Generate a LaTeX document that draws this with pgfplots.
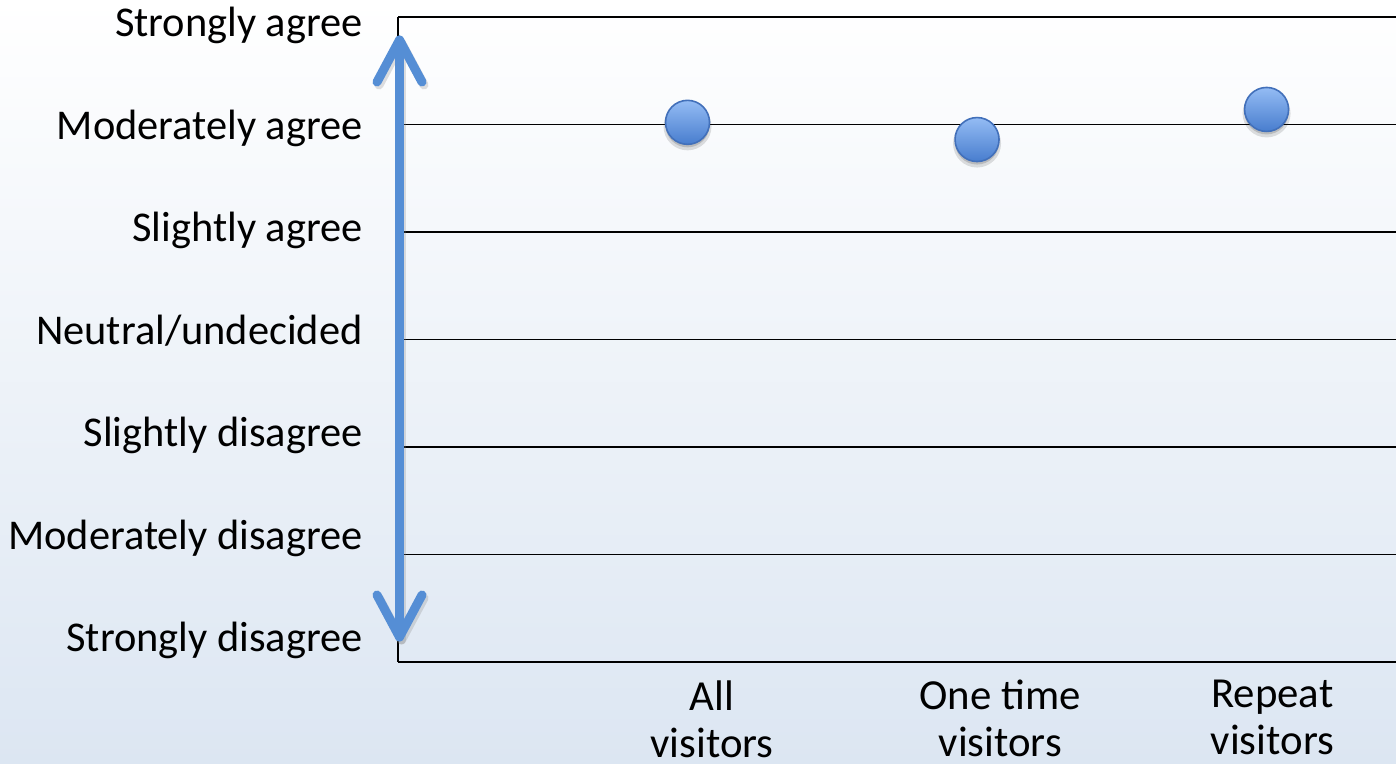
\documentclass[border=0pt]{standalone}
\usepackage{pgfplots}
\pgfplotsset{compat=1.18}
\usepackage{fontspec}
\setmainfont{Carlito}

\definecolor{arrowblue}{RGB}{85,142,213}
\definecolor{dottop}{RGB}{148,188,244}
\definecolor{dotbot}{RGB}{72,125,206}
\definecolor{dotedge}{RGB}{66,112,186}
\definecolor{bgbottom}{RGB}{220,230,242}

% shaded dot with a soft shadow
\pgfdeclareverticalshading{dotshade}{100bp}{color(0bp)=(dotbot); color(25bp)=(dotbot); color(75bp)=(dottop); color(100bp)=(dottop)}
\pgfdeclareplotmark{gdot}{%
  \begin{pgfscope}
    \pgfsetfillopacity{0.12}\pgfsetfillcolor{black}
    \pgfpathcircle{\pgfpoint{0pt}{-2pt}}{\pgfplotmarksize+1pt}
    \pgfusepath{fill}
    \pgfsetfillopacity{0.15}
    \pgfpathcircle{\pgfpoint{0pt}{-1.5pt}}{\pgfplotmarksize}
    \pgfusepath{fill}
  \end{pgfscope}
  \pgfpathcircle{\pgfpointorigin}{\pgfplotmarksize}
  \pgfshadepath{dotshade}{0}
  \pgfusepath{stroke}%
}

\begin{document}
\begin{tikzpicture}
\shade[top color=white, bottom color=bgbottom] (0pt,0pt) rectangle (698pt,382pt);
\path[use as bounding box] (0pt,0pt) rectangle (698pt,382pt);
\begin{axis}[
  at={(199pt,51pt)}, anchor=south west,
  width=499pt, height=322.5pt, scale only axis,
  xmin=0, xmax=3.447, ymin=1, ymax=7,
  axis line style={draw=none},
  % label baselines (the labels sit on their own spacing, not on the grid)
  ytick={1.093,2.047,3.0,3.953,4.907,5.860,6.814},
  yticklabels={Strongly disagree,Moderately disagree,Slightly disagree,Neutral/undecided,Slightly agree,Moderately agree,Strongly agree},
  extra y ticks={1,2,3,4,5,6,7},
  extra y tick labels={},
  extra y tick style={grid=major},
  xtick={1.085,2.08,3.02},
  xticklabels={All\\visitors,One time\\visitors,Repeat\\visitors},
  major tick length=0pt,
  grid style={black, line width=0.8pt},
  yticklabel style={font=\fontsize{21.2}{24}\selectfont, inner sep=0pt, anchor=base east, xshift=-17.5pt},
  xticklabel style={font=\fontsize{21.4}{23.5}\selectfont, inner sep=0pt, align=center, anchor=north, yshift=-9pt},
  clip=false,
]
\draw[black, line width=0.8pt] (axis cs:0,1) -- (axis cs:0,7);
\addplot[only marks, mark=gdot, mark size=11pt,
  mark options={draw=dotedge, line width=0.8pt}] coordinates {
(1, 6.02)
(2, 5.86)
(3, 6.14)
};
\end{axis}
% double-headed arrow along the scale
\begin{scope}[line cap=round, line join=round, line width=4.5pt]
\begin{scope}[gray, opacity=0.25, xshift=1pt, yshift=-1.5pt]
\draw (199.75pt,362pt) -- (199.75pt,63.5pt);
\draw (188.5pt,341pt) -- (199.75pt,362pt) -- (211pt,341pt);
\draw (188.5pt,84.5pt) -- (199.75pt,63.5pt) -- (211pt,84.5pt);
\end{scope}
\draw[arrowblue] (199.75pt,362pt) -- (199.75pt,63.5pt);
\draw[arrowblue] (188.5pt,341pt) -- (199.75pt,362pt) -- (211pt,341pt);
\draw[arrowblue] (188.5pt,84.5pt) -- (199.75pt,63.5pt) -- (211pt,84.5pt);
\end{scope}
\end{tikzpicture}
\end{document}
